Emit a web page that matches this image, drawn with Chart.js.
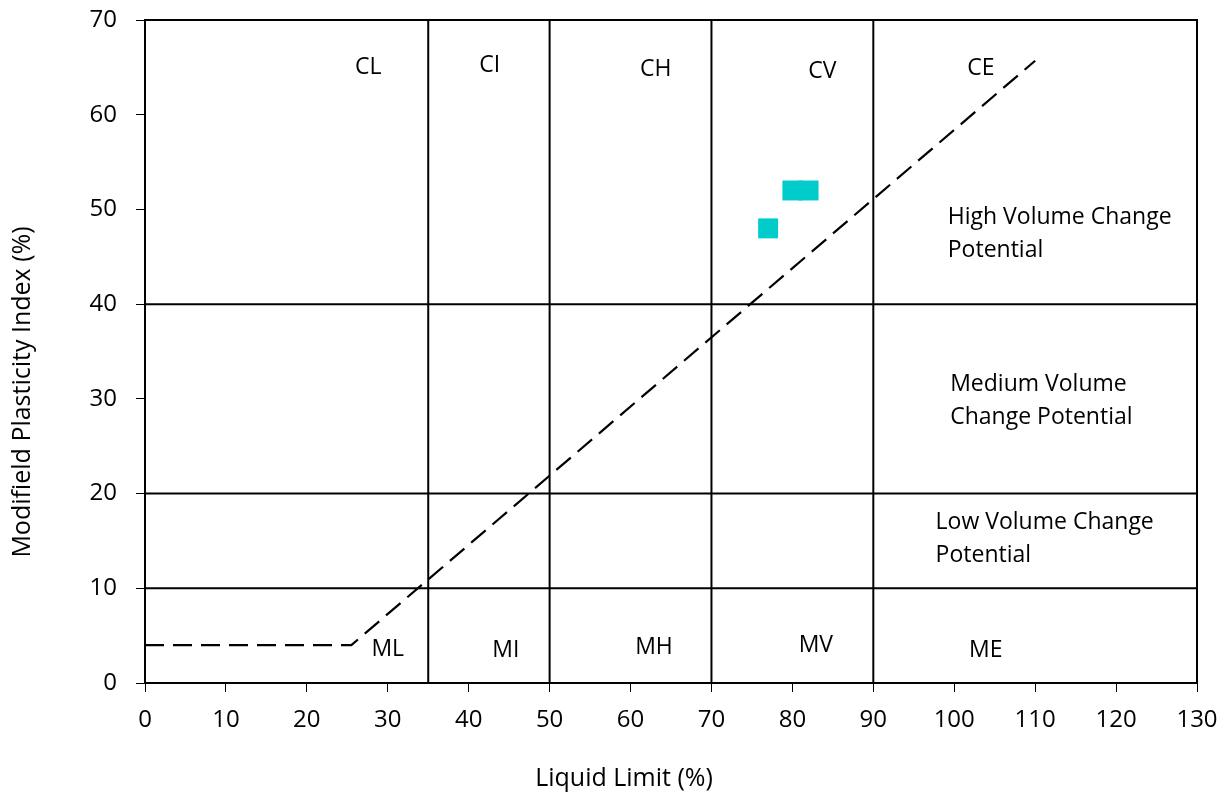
<!DOCTYPE html>
<html>
<head>
<meta charset="utf-8">
<script src="https://cdn.jsdelivr.net/npm/chart.js@4"></script>
<style>
html,body{margin:0;padding:0;background:#fff;}
#wrap{width:1229px;height:800px;}
</style>
</head>
<body>
<div id="wrap"><canvas id="c" width="1229" height="800"></canvas></div>
<script>
// ---- data ----
const sampleLL = [77, 80, 82];
const samplePI = [48, 52, 52];
const aLineLL = [0, 25.5, 110];
const aLinePI = [4, 4, 65.7];
const verticalBounds = [35, 50, 70, 90];
const horizontalBounds = [10, 20, 40];
const xMin = 0, xMax = 130, yMin = 0, yMax = 70;
const topLabels = ['CL', 'CI', 'CH', 'CV', 'CE'];
const topLabelLL = [27.6, 42.6, 63.1, 83.7, 103.3];
const topLabelPI = [65.0, 65.2, 64.8, 64.6, 64.9];
const bottomLabels = ['ML', 'MI', 'MH', 'MV', 'ME'];
const bottomLabelLL = [30.0, 44.6, 62.9, 82.9, 103.9];
const bottomLabelPI = [3.5, 3.4, 3.8, 4.0, 3.4];
const zoneLabels = [['High Volume Change', 'Potential'], ['Medium Volume', 'Change Potential'], ['Low Volume Change', 'Potential']];
const zoneLabelLL = [99.2, 99.5, 97.7];
const zoneLabelPI = [49.1, 31.5, 16.9];
const xTitle = 'Liquid Limit (%)';
const yTitle = 'Modifield Plasticity Index (%)';

const FONT = "'Open Sans', sans-serif";

const datasets = [];
datasets.push({
  label: 'Samples',
  data: sampleLL.map((x, i) => ({x, y: samplePI[i]})),
  pointStyle: 'rect',
  pointRadius: 14.1,
  pointBorderWidth: 0,
  backgroundColor: '#00CCCC',
  borderColor: '#00CCCC',
  showLine: false,
  order: 0
});
datasets.push({
  label: 'A-line',
  data: aLineLL.map((x, i) => ({x, y: aLinePI[i]})),
  showLine: true,
  borderColor: '#000',
  borderWidth: 2.2,
  borderDash: [19, 9],
  pointRadius: 0,
  fill: false,
  order: 1
});
verticalBounds.forEach(v => datasets.push({
  data: [{x: v, y: yMin}, {x: v, y: yMax}],
  showLine: true, borderColor: '#000', borderWidth: 2, pointRadius: 0, order: 2
}));
horizontalBounds.forEach(h => datasets.push({
  data: [{x: xMin, y: h}, {x: xMax, y: h}],
  showLine: true, borderColor: '#000', borderWidth: 2, pointRadius: 0, order: 2
}));

const labelPlugin = {
  id: 'labels',
  afterDatasetsDraw(chart) {
    const {ctx, scales: {x, y}, chartArea} = chart;
    ctx.save();
    // frame
    ctx.strokeStyle = '#000';
    ctx.lineWidth = 2;
    ctx.beginPath();
    ctx.moveTo(chartArea.left, chartArea.top);
    ctx.lineTo(chartArea.right, chartArea.top);
    ctx.lineTo(chartArea.right, chartArea.bottom);
    ctx.stroke();
    ctx.fillStyle = '#000';
    ctx.font = '23px ' + FONT;
    ctx.textBaseline = 'middle';
    ctx.textAlign = 'center';
    topLabels.forEach((t, i) => ctx.fillText(t, x.getPixelForValue(topLabelLL[i]), y.getPixelForValue(topLabelPI[i])));
    bottomLabels.forEach((t, i) => ctx.fillText(t, x.getPixelForValue(bottomLabelLL[i]), y.getPixelForValue(bottomLabelPI[i])));
    ctx.textAlign = 'left';
    zoneLabels.forEach((lines, i) => {
      const px = x.getPixelForValue(zoneLabelLL[i]);
      const py = y.getPixelForValue(zoneLabelPI[i]);
      lines.forEach((l, j) => ctx.fillText(l, px, py + j * 33));
    });
    // axis titles
    ctx.font = '25px ' + FONT;
    ctx.textAlign = 'center';
    ctx.fillText(xTitle, 624, 779);
    ctx.translate(23, 392);
    ctx.rotate(-Math.PI / 2);
    ctx.fillText(yTitle, 0, 0);
    ctx.restore();
  }
};

new Chart(document.getElementById('c'), {
  type: 'scatter',
  data: {datasets},
  options: {
    responsive: false,
    animation: false,
    layout: {padding: {left: 0, right: 32, top: 20, bottom: 0}},
    plugins: {legend: {display: false}, tooltip: {enabled: false}},
    scales: {
      x: {
        type: 'linear', min: xMin, max: xMax,
        afterFit(s) { s.height = 117; s.paddingLeft = 0; s.paddingRight = 0; },
        ticks: {stepSize: 10, color: '#000', font: {family: FONT, size: 24}, padding: 14, maxRotation: 0},
        grid: {drawOnChartArea: false, drawTicks: true, tickLength: 9, color: '#000', lineWidth: 1},
        border: {display: true, color: '#000', width: 2},
        title: {display: false}
      },
      y: {
        type: 'linear', min: yMin, max: yMax,
        afterFit(s) { s.width = 145; s.paddingTop = 0; s.paddingBottom = 0; },
        ticks: {stepSize: 10, color: '#000', font: {family: FONT, size: 24}, padding: 19},
        grid: {drawOnChartArea: false, drawTicks: true, tickLength: 9, color: '#000', lineWidth: 1},
        border: {display: true, color: '#000', width: 2},
        title: {display: false}
      }
    }
  },
  plugins: [labelPlugin]
});
</script>
</body>
</html>
